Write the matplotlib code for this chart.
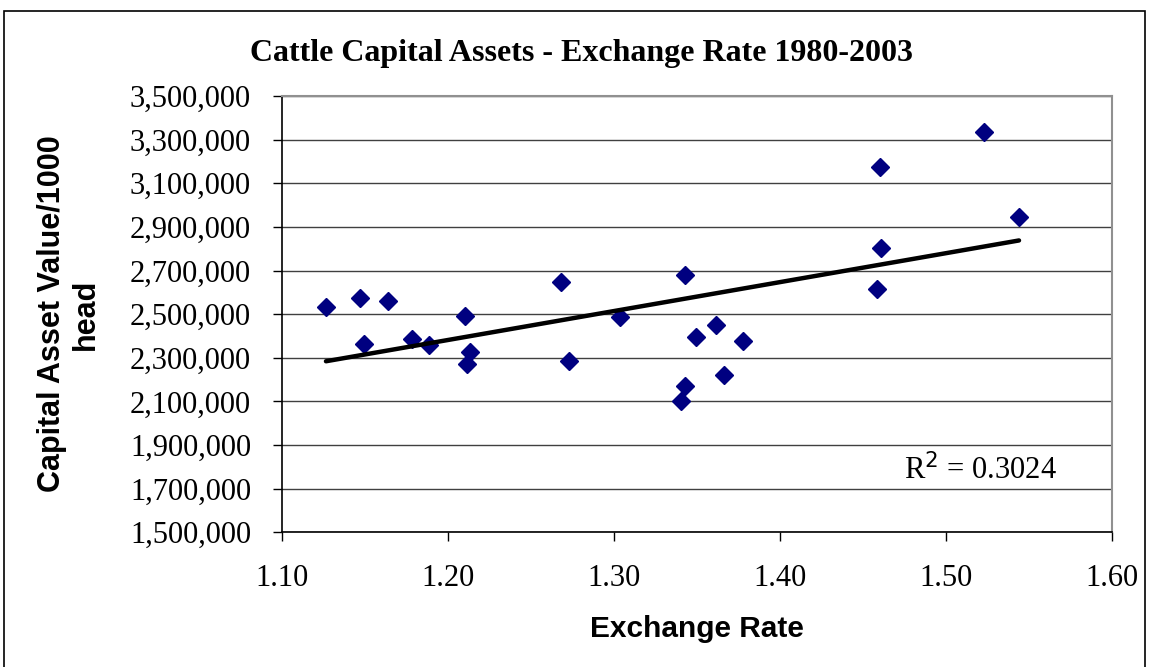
import matplotlib
matplotlib.use("Agg")
import matplotlib.pyplot as plt
import numpy as np
from matplotlib.ticker import FuncFormatter
from matplotlib.patches import Rectangle

# Data
exchange_rate = [1.1263, 1.1468, 1.1492, 1.1637, 1.1781, 1.1882, 1.2099, 1.2129,
                 1.2114, 1.2679, 1.2729, 1.3033, 1.3424, 1.3424, 1.3404, 1.3492,
                 1.3613, 1.3661, 1.3773, 1.4601, 1.4605, 1.4582, 1.5227, 1.5438]
asset_value = [2531000, 2572600, 2363000, 2560300, 2386100, 2358600, 2492900, 2327900,
               2271500, 2647400, 2285200, 2488300, 2678100, 2172000, 2103300, 2395300,
               2448900, 2222500, 2378300, 3173200, 2801800, 2613900, 3333600, 2946700]
x_ticks = [1.10, 1.20, 1.30, 1.40, 1.50, 1.60]
y_ticks = [1500000, 1700000, 1900000, 2100000, 2300000, 2500000,
           2700000, 2900000, 3100000, 3300000, 3500000]
title = "Cattle Capital Assets - Exchange Rate 1980-2003"
xlabel = "Exchange Rate"
ylabel = "Capital Asset Value/1000\nhead"
r2_text = "R$^2$ = 0.3024"

W, H = 1149, 667
fig = plt.figure(figsize=(W / 100, H / 100), dpi=100)
fig.patch.set_facecolor("white")

# Outer chart border
fig.add_artist(Rectangle((4 / W, -0.01), (1145 - 4) / W, 1 - 11 / H + 0.01,
                         transform=fig.transFigure, fill=False, edgecolor="black",
                         linewidth=1.2))

left, right = 282.3 / W, 1112.3 / W
top, bottom = 1 - 96 / H, 1 - 532.3 / H
ax = fig.add_axes([left, bottom, right - left, top - bottom])

x = np.array(exchange_rate)
y = np.array(asset_value)
ax.plot(x, y, linestyle="none", marker="D", markersize=8.8, color="#000080",
        markeredgecolor="#000080", zorder=3)

# Linear trendline
m, b = np.polyfit(x, y, 1)
xs = np.array([x.min(), x.max()])
ax.plot(xs, m * xs + b, color="black", linewidth=3.2, solid_capstyle="round", zorder=4)

ax.set_xlim(x_ticks[0], x_ticks[-1])
ax.set_ylim(y_ticks[0], y_ticks[-1])
ax.set_xticks(x_ticks)
ax.set_yticks(y_ticks)
ax.xaxis.set_major_formatter(FuncFormatter(lambda v, p: f"{v:.2f}"))
ax.yaxis.set_major_formatter(FuncFormatter(lambda v, p: f"{int(round(v)):,}"))

ax.grid(axis="y", color="#404040", linewidth=1.0)
ax.set_axisbelow(True)

for s in ["top", "right"]:
    ax.spines[s].set_color("#909090")
    ax.spines[s].set_linewidth(1.5)
for s in ["left", "bottom"]:
    ax.spines[s].set_color("black")
    ax.spines[s].set_linewidth(1.2)

serif = ["Liberation Serif", "DejaVu Serif"]
sans = ["Liberation Sans", "DejaVu Sans"]

ax.tick_params(axis="y", direction="out", length=6.5, width=1, pad=16,
               labelsize=22)
ax.tick_params(axis="x", direction="out", length=6.5, width=1, pad=16,
               labelsize=22)
for lab in ax.get_xticklabels() + ax.get_yticklabels():
    lab.set_fontfamily(serif)

fig.text(582 / W, 1 - 53 / H, title, fontfamily=serif, fontweight="bold",
         fontsize=23, ha="center", va="center")
fig.text(697 / W, 1 - 629 / H, xlabel, fontfamily=sans, fontweight="bold",
         fontsize=21.5, ha="center", va="center")
fig.text(69 / W, 1 - 314 / H, ylabel, rotation=90, ha="center", va="center",
         fontfamily=sans, fontweight="bold", fontsize=22, multialignment="center",
         linespacing=1.15)

ax.text(1.5203, 1785600, r2_text, fontfamily=serif, fontsize=22, ha="center",
        va="center")

fig.savefig("out.png", dpi=100, facecolor="white")
